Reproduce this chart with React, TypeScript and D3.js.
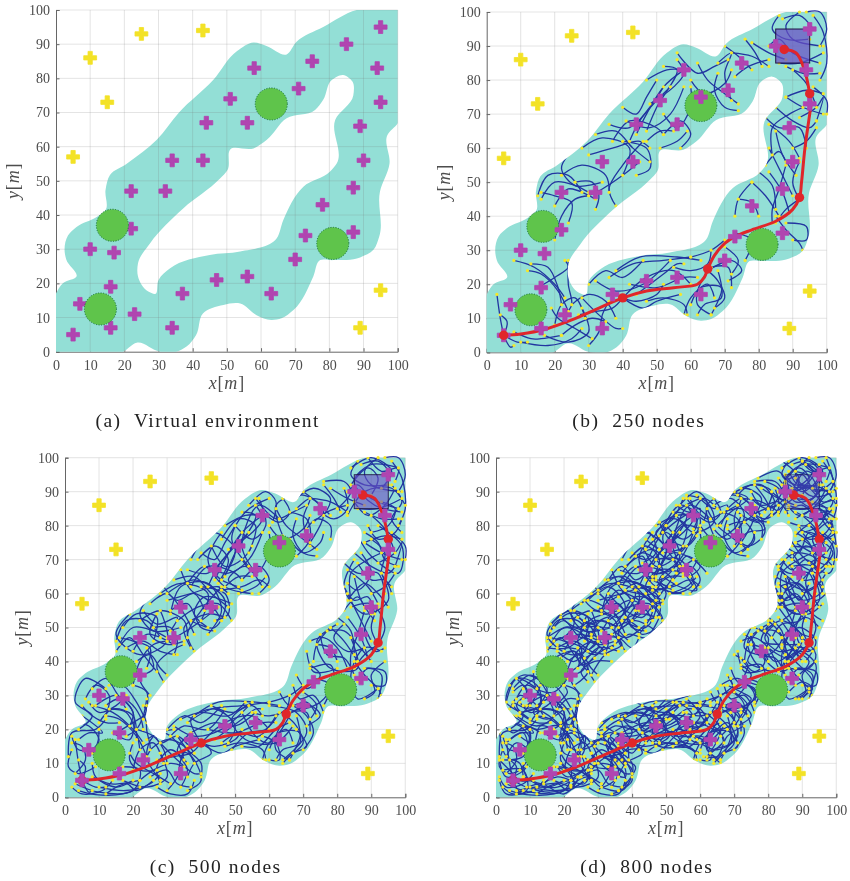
import React, { useRef, useEffect } from "react";
import * as d3 from "d3";

const ticks = [0, 10, 20, 30, 40, 50, 60, 70, 80, 90, 100];

// free space outline
const freeOuter: number[][] = [
  [0, 0], [0, 17], [2, 20], [6, 22], [3, 27], [2.5, 30], [3.5, 34], [6, 36.5], [12, 39.5], [14.5, 41.5],
  [14.5, 47.3], [15.8, 51.7], [20.7, 55], [29.5, 62], [36, 70], [46, 79.5], [53, 88], [57.8, 90.5], [61.6, 89.5],
  [67.5, 87], [70.4, 90.7], [78.2, 95], [88, 100], [100, 100], [100, 66.8], [97, 63.4], [97.6, 55], [94.8, 46.8],
  [94.6, 33.7], [92.9, 29.8], [89, 27.6], [81, 26.8], [77.3, 26.8], [75.3, 22], [69.5, 12.2], [66, 9.8], [63, 9.3],
  [58.7, 10.7], [53.9, 14.1], [49, 13.7], [43, 11.2], [41, 4.9], [38.2, 1.5], [35.3, 0], [30.4, 0], [23.6, 2.6], [19.7, 0],
];
const freeHole: number[][] = [
  [24, 25.9], [24, 22], [27, 17.6], [29, 16.9], [30, 21], [33.4, 24.4], [45, 28.3], [53.9, 29.3], [64.6, 33.2],
  [66.5, 38.5], [72.4, 48.3], [80.2, 52.7], [82.1, 55], [81.7, 67.8], [87, 75], [86.8, 79], [84, 81], [80.7, 79.5],
  [78.2, 73.7], [75.8, 70.7], [67.5, 68.3], [61.7, 62], [57.8, 59.5], [51, 59.2], [50.2, 53.2], [48, 50.7], [37.3, 42], [27.5, 31.7],
];

const hazards: number[][] = [
  [5, 5], [7, 14], [16, 7], [16, 19], [23, 11], [34, 7], [37, 17], [47, 21], [56, 22], [63, 17], [70, 27], [73, 34],
  [87, 35], [78, 43], [87, 48], [90, 56], [89, 66], [95, 73], [94, 83], [95, 95], [85, 90], [75, 85], [71, 77], [63, 75],
  [58, 83], [51, 74], [56, 67], [44, 67], [43, 56], [34, 56], [32, 47], [22, 47], [22, 36], [10, 30], [17, 29],
];
const beacons: number[][] = [[5, 57], [10, 86], [15, 73], [25, 93], [43, 94], [95, 18], [89, 7]];
const discs: number[][] = [[13, 12.5], [16.5, 37], [81, 31.7], [63, 72.5]];
const discRadius = 4.7;
const goalBox = [85, 85, 95, 95];

const route: number[][] = [
  [5, 5], [10, 5.4], [17, 6.7], [25, 9.5], [33, 13], [40, 16], [47, 18], [55, 19], [62, 20], [64, 22], [65, 24.5],
  [67, 28.5], [70, 32], [73, 34], [78, 36], [85, 38.5], [90, 42], [92, 45.5], [92.6, 50], [93.6, 60], [95, 70],
  [95.4, 73], [95, 76], [93.5, 82.8], [91, 88], [87.5, 89],
];
const routeStops: number[][] = [[5, 5], [40, 16], [65, 24.5], [92, 45.5], [95, 76], [87.5, 89]];

// tree branches as x,y,x,y,...
const treeB: number[][] = [
  [5, 5, 4, 10, 3, 17], [5, 5, 6, 9, 4, 11], [5, 5, 9, 3, 12, 3], [5, 5, 7, 1.5, 8, 2],
  [8, 27, 14, 25, 20, 20, 23, 16], [13, 26, 18, 25, 21, 19, 22, 14], [12, 24, 16, 23, 21, 18, 24, 12],
  [15, 19, 20, 22, 24, 25, 23, 27], [24, 27, 24, 20, 25, 14, 23, 11], [20, 8, 22, 14, 26, 16, 29, 10],
  [17, 5, 24, 3, 30, 6, 28, 13], [10, 3, 18, 2, 25, 4, 28, 7], [22, 5, 26, 8, 31, 10, 35, 9],
  [25, 14, 30, 17, 35, 15, 38, 10], [28, 16, 33, 11, 38, 7, 40, 7], [30, 2, 33, 6, 34, 11, 36, 15],
  [27, 11, 32, 12, 37, 13, 40, 16], [19, 13, 21, 10, 26, 7, 31, 4], [8, 6, 13, 4, 16, 4, 22, 5],
  [30, 20, 35, 24, 40, 22, 46, 27], [32, 21, 38, 18, 46, 20, 54, 27], [36, 22, 43, 26, 52, 27, 60, 28],
  [38, 24, 45, 28, 56, 28, 63, 27], [40, 16, 47, 22, 55, 24, 60, 20], [40, 16, 44, 15, 50, 17, 52, 20],
  [40, 16, 46, 13, 50, 15, 57, 17], [42, 20, 50, 19, 58, 22, 62, 22], [44, 17, 52, 23, 56, 26, 58, 26],
  [47, 15, 52, 16, 58, 14, 59, 11], [58, 11, 60, 16, 65, 20, 67, 16], [60, 14, 63, 19, 69, 19, 66, 11],
  [62, 11, 64, 14, 69, 16, 68, 24], [55, 25, 60, 24, 65, 26, 66, 30], [60, 28, 66, 30, 70, 33],
  [65, 24, 62, 18, 62, 14, 66, 11], [65, 24, 68, 21, 70, 16, 67, 13], [65, 24, 72, 27, 75, 24, 71, 21],
  [66, 25, 71, 25, 72, 19], [70, 31, 74, 27, 72, 23], [73, 35, 78, 33, 76, 27],
  [85, 40, 88, 36, 92, 32, 93, 30], [88, 38, 94, 37, 94, 33, 90, 33], [92, 45, 88, 42, 85, 38],
  [78, 50, 82, 46, 86, 40], [74, 45, 78, 44, 80, 40], [78, 50, 74, 45, 73, 40], [88, 55, 86, 48, 84, 42, 84, 38],
  [83, 53, 87, 47, 89, 41], [80, 53, 84, 49, 85, 42], [83, 60, 87, 52, 90, 46], [92, 56, 90, 50, 92, 45],
  [85, 65, 87, 58, 91, 52], [82, 55, 86, 59, 88, 56], [83, 67, 89, 62, 92, 57], [82, 69, 86, 66, 92, 66, 94, 60],
  [85, 72, 90, 68, 95, 66, 97, 68], [90, 60, 94, 62, 97, 66], [84, 58, 84, 66, 89, 70, 93, 72],
  [88, 75, 93, 72, 99, 70], [88, 75, 94, 77, 99, 76], [92, 69, 97, 72, 99, 75, 97, 68], [96, 78, 100, 74, 100, 70],
  [90, 83, 94, 79, 97, 72], [88, 84, 93, 82, 98, 82], [86, 85, 92, 85, 99, 88], [92, 100, 88, 96, 90, 92, 99, 90],
  [86, 99, 84, 95, 88, 92, 95, 92], [87, 98, 92, 99, 96, 95], [94, 100, 98, 100, 100, 95, 98, 90],
  [96, 99, 99, 94, 100, 85, 98, 80], [83, 90, 86, 92, 90, 88, 98, 85], [78, 91, 83, 88, 88, 86],
  [72, 88, 78, 87, 83, 84], [76, 92, 79, 88, 81, 84], [70, 90, 74, 87, 78, 83], [73, 81, 77, 84, 83, 86],
  [68, 85, 72, 88, 70, 82, 72, 74], [62, 85, 65, 80, 70, 76, 74, 73], [68, 82, 67, 77, 70, 72, 74, 71],
  [56, 88, 62, 82, 67, 84, 71, 86], [60, 80, 64, 76, 70, 79, 72, 83], [56, 86, 58, 82, 55, 78, 48, 73],
  [58, 83, 52, 78, 47, 70, 44, 64], [52, 84, 56, 83, 50, 72, 47, 65], [47, 80, 53, 83, 58, 83],
  [54, 78, 50, 74, 45, 68, 42, 62], [58, 78, 54, 70, 48, 66, 41, 68], [60, 78, 60, 72, 56, 66, 52, 70],
  [36, 67, 42, 66, 48, 72, 52, 78], [52, 64, 57, 68, 60, 64, 57, 60], [51, 60, 56, 62, 59, 65], [47, 62, 51, 65, 55, 65],
  [40, 72, 44, 70, 47, 75, 50, 80], [37, 62, 42, 68, 50, 66, 52, 64], [32, 64, 38, 65, 43, 60, 48, 56],
  [28, 60, 34, 63, 42, 60, 40, 52], [30, 58, 37, 60, 45, 62, 48, 60], [40, 62, 47, 60, 48, 54, 44, 52],
  [46, 62, 40, 55, 36, 48, 38, 43], [45, 56, 40, 52, 34, 48, 30, 46], [24, 58, 22, 54, 26, 49, 34, 50],
  [22, 52, 28, 55, 35, 52, 36, 47], [26, 50, 31, 50, 33, 46, 32, 42], [16, 45, 20, 50, 26, 49, 30, 47],
  [15, 46, 18, 52, 24, 52, 28, 47], [16, 47, 20, 46, 25, 44, 24, 38], [20, 33, 22, 40, 26, 45, 30, 46],
  [20, 43, 24, 48, 32, 45],
];

const treeC: number[][] = [
  [8, 32, 12, 35, 15, 31, 18, 26], [6, 29, 9, 33, 13, 30, 12, 24], [7, 28, 10, 25, 15, 27, 18, 30],
  [5, 27, 8, 24, 12, 22, 16, 22], [15, 30, 19, 28, 22, 24, 23, 20], [13, 33, 17, 33, 21, 28, 24, 22],
  [20, 33, 24, 31, 24, 26, 23, 23], [24, 29, 23, 24, 21, 20, 18, 18], [3, 22, 7, 21, 10, 17, 8, 13],
  [2, 18, 4, 14, 9, 15, 10, 20], [2, 14, 1, 9, 4, 7, 9, 9], [2, 3, 5, 1, 11, 2, 14, 5],
  [4, 2, 9, 0.8, 17, 1, 22, 3], [8, 10, 9, 6, 15, 3, 20, 5], [20, 16, 19, 11, 22, 8, 27, 8],
  [21, 20, 26, 18, 29, 14, 30, 10], [24, 17, 29, 19, 33, 16, 35, 11], [25, 6, 30, 8, 33, 4, 37, 3],
  [27, 3, 31, 1, 36, 1, 38, 5], [33, 18, 36, 14, 40, 10, 40, 6], [36, 6, 38, 10, 43, 13, 41, 16],
  [31, 18, 35, 21, 42, 20, 47, 26], [34, 23, 40, 25, 48, 24, 53, 28], [37, 19, 44, 22, 50, 21, 56, 25],
  [43, 27, 49, 25, 55, 27, 58, 24], [46, 16, 51, 19, 57, 18, 62, 24], [49, 14, 54, 19, 59, 20, 63, 25],
  [52, 15, 57, 15, 62, 20, 66, 22], [58, 18, 62, 16, 63, 11, 60, 11], [64, 10, 67, 13, 71, 15, 68, 20],
  [70, 14, 73, 19, 71, 24, 67, 27], [63, 31, 66, 27, 71, 28, 74, 24], [67, 33, 69, 29, 73, 30, 76, 25],
  [68, 36, 71, 32, 75, 36, 72, 39], [71, 43, 73, 37, 77, 37, 80, 38], [75, 48, 77, 42, 82, 41, 85, 36],
  [72, 46, 76, 47, 80, 44, 83, 38], [82, 51, 79, 47, 83, 43, 88, 44], [77, 49, 82, 49, 86, 45, 90, 40],
  [86, 34, 89, 38, 93, 36, 92, 29], [88, 29, 91, 31, 90, 36, 94, 40], [90, 54, 88, 49, 91, 43, 94, 44],
  [82, 62, 85, 58, 89, 59, 91, 54], [83, 58, 88, 63, 92, 60, 95, 56], [86, 69, 90, 64, 94, 64, 96, 60],
  [83, 63, 86, 61, 90, 66, 87, 72], [96, 62, 93, 66, 94, 72, 90, 76], [98, 68, 94, 70, 92, 75, 88, 78],
  [89, 80, 92, 76, 97, 78, 99, 82], [90, 78, 95, 80, 97, 85, 93, 87], [99, 78, 96, 82, 99, 87, 96, 92],
  [85, 87, 89, 83, 94, 86, 97, 91], [84, 97, 90, 100, 96, 96, 93, 91], [89, 100, 93, 96, 98, 97, 97, 93],
  [80, 85, 84, 90, 82, 93, 76, 93], [74, 85, 79, 82, 83, 85, 82, 91], [68, 88, 73, 91, 78, 88, 76, 83],
  [71, 79, 74, 82, 78, 80, 78, 76], [66, 76, 70, 72, 75, 75, 76, 78], [68, 71, 72, 76, 71, 82, 66, 84],
  [64, 88, 66, 84, 63, 81, 58, 84], [54, 86, 59, 90, 62, 87, 61, 81], [50, 80, 55, 76, 59, 80, 57, 88],
  [46, 76, 51, 82, 56, 80, 54, 72], [43, 74, 47, 68, 52, 70, 55, 74], [39, 70, 44, 74, 48, 70, 45, 63],
  [36, 63, 41, 68, 46, 64, 51, 62], [52, 61, 48, 64, 53, 68, 58, 62], [60, 62, 57, 64, 52, 62, 46, 61],
  [34, 67, 37, 61, 42, 58, 46, 52], [29, 62, 33, 58, 38, 60, 41, 55], [25, 57, 30, 60, 35, 54, 38, 48],
  [23, 55, 27, 51, 33, 53, 31, 49], [27, 54, 25, 48, 30, 45, 35, 46], [37, 44, 35, 50, 42, 54, 47, 53],
  [17, 50, 21, 54, 27, 53, 26, 46], [15, 43, 19, 47, 23, 42, 27, 37], [21, 40, 25, 42, 28, 38, 30, 36],
  [29, 34, 27, 39, 31, 43, 35, 45], [18, 44, 23, 46, 28, 43, 33, 42], [25, 30, 22, 35, 26, 38, 24, 44],
  [42, 50, 38, 54, 41, 59, 49, 57], [49, 52, 45, 57, 39, 56, 33, 52], [31, 55, 36, 57, 40, 50, 44, 49],
  [12, 27, 16, 29, 20, 25, 19, 21], [10, 22, 14, 26, 20, 24, 21, 17], [4, 17, 7, 19, 11, 19, 5, 24],
  [3, 7, 6, 11, 5, 15, 2, 16], [26, 20, 28, 16, 33, 18, 38, 13], [28, 4, 27, 9, 31, 14, 36, 10],
  [34, 3, 36, 8, 33, 14, 37, 19], [12, 1, 18, 4, 21, 2, 26, 5],
  // long loops, second pass over panel (c)
  [9, 27, 15, 30, 20, 25, 19, 17, 14, 19], [4, 20, 8, 24, 3, 28, 6, 35, 12, 32], [1, 12, 2, 19, 9, 20, 12, 23],
  [3, 4, 10, 1.5, 20, 2, 22, 8, 17, 9], [28, 5, 24, 12, 26, 18, 32, 20], [36, 2, 40, 5, 36, 13, 30, 12],
  [40, 16, 37, 23, 44, 26, 50, 21, 48, 16], [55, 28, 49, 23, 53, 17, 62, 16, 67, 21], [60, 27, 68, 25, 71, 19, 64, 11],
  [66, 24, 60, 16, 56, 18, 52, 25], [72, 38, 78, 39, 79, 34, 75, 28, 70, 26], [92, 32, 86, 29, 84, 36, 88, 44, 93, 43],
  [80, 51, 74, 46, 78, 38, 86, 38, 84, 47], [84, 56, 90, 57, 94, 50, 90, 42], [85, 70, 82, 62, 88, 54, 95, 58, 93, 66],
  [86, 77, 90, 71, 98, 66, 99, 74, 92, 80], [98, 97, 90, 98, 85, 93, 91, 86, 99, 84], [83, 83, 88, 90, 96, 91, 100, 86],
  [90, 89, 92, 94, 89, 97, 84, 92], [72, 75, 76, 84, 70, 89, 62, 86, 64, 77], [56, 66, 52, 74, 57, 86, 63, 82],
  [46, 78, 42, 70, 47, 62, 55, 60], [30, 60, 38, 64, 47, 58, 44, 50, 37, 52], [19, 54, 15, 48, 22, 42, 30, 46, 28, 55],
  [42, 48, 46, 55, 42, 63, 34, 62, 31, 54], [37, 70, 43, 78, 50, 73, 46, 64], [60, 88, 53, 84, 49, 76, 54, 68],
];

const treeD: number[][] = [
  [2, 22, 5, 19, 9, 21, 13, 19], [1, 19, 3, 12, 7, 10, 8, 6], [1, 6, 3, 3, 8, 4, 11, 7], [6, 2, 12, 3, 18, 3, 24, 6],
  [3, 12, 6, 16, 10, 13, 7, 8], [8, 21, 12, 20, 19, 21, 21, 14], [4, 26, 7, 30, 11, 28, 14, 24], [4, 33, 8, 36, 13, 34, 10, 27],
  [6, 35, 9, 31, 6, 27, 10, 23], [11, 37, 12, 32, 17, 31, 21, 35], [14, 28, 11, 25, 15, 23, 20, 26], [17, 24, 21, 29, 25, 28, 22, 21],
  [23, 19, 19, 18, 20, 13, 25, 12], [18, 9, 21, 6, 26, 9, 24, 14], [14, 4, 18, 7, 24, 8, 28, 5], [22, 3.5, 27, 6, 31, 3, 35, 5],
  [26, 12, 29, 9, 34, 9, 32, 16], [29, 15, 33, 19, 38, 17, 39, 11], [31, 12, 36, 11, 39, 14, 44, 14], [34, 1, 38, 3, 37, 8, 33, 9],
  [37, 11, 41, 9, 39, 5, 36, 2], [32, 20, 37, 23, 44, 21, 50, 23], [35, 19, 40, 19, 46, 23, 51, 23], [31, 22, 38, 25, 44, 24, 50, 29],
  [41, 28, 47, 26, 51, 28, 57, 30], [43, 19, 48, 17, 54, 20, 59, 17], [44, 13, 49, 16, 55, 15, 60, 13], [46, 18, 52, 21, 58, 24, 62, 29],
  [48, 22, 53, 18, 60, 18, 65, 16], [50, 26, 54, 22, 60, 21, 65, 28], [53, 16, 56, 20, 52, 24, 47, 24], [59, 27, 61, 23, 66, 20, 70, 22],
  [61, 12, 65, 12, 68, 18, 73, 21], [60, 16, 65, 14, 71, 18, 69, 25], [63, 13, 67, 17, 62, 21, 58, 22], [65, 32, 68, 26, 73, 25, 75, 21],
  [69, 38, 71, 34, 76, 32, 76, 28], [68, 33, 72, 31, 75, 29, 72, 26], [70, 42, 74, 39, 73, 35, 77, 33], [73, 48, 76, 45, 74, 40, 78, 38],
  [76, 50, 80, 47, 79, 41, 83, 37], [81, 52, 78, 46, 84, 45, 89, 45], [83, 49, 87, 44, 92, 40, 89, 36], [86, 38, 92, 38, 94, 42, 90, 47],
  [86, 31, 90, 34, 93, 32, 89, 29], [90, 29, 93, 34, 88, 40, 84, 44], [94, 47, 90, 48, 86, 52, 83, 56], [95, 50, 91, 53, 87, 50, 84, 47],
  [96, 57, 92, 54, 86, 55, 84, 60], [83, 56, 88, 60, 93, 54, 96, 52], [82, 65, 86, 63, 91, 61, 96, 64], [84, 70, 87, 67, 91, 70, 95, 67],
  [85, 74, 89, 72, 92, 78, 97, 75], [87, 70, 91, 74, 96, 71, 99, 68], [88, 77, 92, 80, 96, 76, 100, 78], [86, 81, 91, 80, 96, 84, 100, 82],
  [85, 84, 90, 86, 95, 82, 99, 85], [100, 88, 96, 87, 92, 91, 87, 91], [85, 93, 90, 95, 94, 90, 99, 93], [83, 94, 87, 90, 92, 93, 95, 98],
  [86, 96, 89, 92, 93, 96, 90, 99], [88, 94, 92, 89, 97, 89, 100, 91], [91, 98, 95, 94, 93, 88, 88, 88], [79, 93, 83, 91, 85, 87, 81, 83],
  [75, 90, 78, 86, 83, 87, 86, 83], [71, 89, 75, 92, 81, 90, 79, 84], [67, 84, 72, 85, 76, 82, 80, 81], [70, 74, 74, 78, 79, 79, 75, 84],
  [72, 72, 76, 76, 73, 81, 68, 80], [65, 80, 69, 84, 74, 88, 69, 90], [59, 89, 64, 85, 68, 86, 66, 80], [53, 86, 57, 84, 61, 88, 65, 85],
  [49, 78, 54, 82, 60, 85, 58, 79], [44, 76, 49, 73, 55, 80, 60, 79], [41, 71, 46, 73, 51, 70, 56, 74], [38, 68, 43, 71, 46, 66, 52, 67],
  [33, 64, 37, 68, 41, 64, 46, 68], [36, 59, 41, 63, 47, 61, 53, 63], [49, 65, 54, 62, 59, 61, 55, 68], [58, 70, 54, 67, 50, 62, 47, 58],
  [62, 66, 58, 70, 52, 72, 48, 68], [26, 58, 30, 55, 36, 61, 40, 58], [22, 55, 27, 58, 32, 56, 37, 52], [19, 53, 24, 50, 29, 53, 36, 55],
  [16, 49, 20, 52, 25, 47, 30, 50], [15, 44, 21, 44, 26, 47, 32, 43], [17, 41, 23, 43, 25, 39, 29, 41], [22, 37, 26, 40, 30, 44, 36, 43],
  [27, 34, 25, 37, 29, 40, 34, 40], [39, 46, 36, 50, 41, 52, 47, 49], [34, 44, 39, 48, 44, 47, 48, 53], [31, 47, 36, 47, 40, 44, 42, 47],
  [44, 60, 48, 57, 50, 60, 47, 64], [33, 60, 38, 55, 43, 53, 46, 57], [28, 48, 31, 52, 37, 50, 42, 55], [24, 53, 28, 50, 30, 44, 26, 41],
  [20, 56, 23, 52, 21, 48, 17, 46], [40, 75, 45, 78, 47, 72, 43, 69], [48, 81, 51, 76, 56, 74, 59, 77], [55, 88, 52, 82, 47, 78, 50, 74],
  [57, 65, 60, 68, 56, 71, 53, 66], [7, 18, 11, 16, 13, 21, 17, 20], [19, 16, 22, 19, 26, 16, 26, 21], [1, 11, 4, 8, 7, 5, 11, 5],
  [7, 24, 10, 28, 8, 33, 5, 31], [18, 35, 21, 31, 18, 27, 22, 26], [36, 16, 40, 13, 44, 18, 48, 16], [41, 24, 44, 20, 50, 25, 55, 22],
  [56, 27, 60, 26, 62, 22, 57, 20], [66, 26, 70, 28, 70, 23, 66, 18], [77, 30, 74, 33, 71, 30, 69, 35], [79, 44, 82, 40, 86, 42, 88, 47],
  [81, 47, 84, 51, 89, 52, 90, 57], [84, 52, 88, 56, 85, 61, 87, 65], [92, 63, 89, 58, 86, 64, 83, 68], [97, 60, 94, 58, 91, 63, 93, 68],
  // rings and dense hubs, second pass over panel (d)
  [3, 28, 6, 35, 12, 33, 13, 27, 7, 25], [5, 32, 10, 36, 15, 32, 11, 26, 5, 28], [8, 29, 14, 30, 17, 24, 12, 21, 6, 24],
  [1, 20, 5, 22, 10, 19, 8, 12, 2, 11], [3, 16, 8, 19, 9, 9, 3, 6, 1, 11], [2, 8, 8, 8, 9, 2, 3, 1, 1, 5],
  [6, 1, 13, 4, 20, 1, 24, 6, 17, 9], [9, 3, 16, 1.5, 23, 4, 19, 10], [11, 2, 18, 6, 26, 4, 28, 9], [19, 22, 24, 20, 26, 14, 21, 8],
  [22, 24, 19, 19, 23, 14, 29, 16, 26, 21], [28, 13, 33, 8, 38, 6, 36, 13, 30, 16], [31, 3, 37, 2, 40, 8, 33, 12, 28, 8],
  [38, 9, 33, 17, 39, 21, 44, 16], [31, 19, 34, 14, 40, 19, 36, 24], [42, 14, 46, 19, 43, 25, 37, 23], [47, 28, 42, 22, 48, 15, 56, 16, 58, 22],
  [52, 28, 46, 23, 53, 19, 60, 24, 56, 29], [59, 13, 53, 19, 60, 25, 66, 20, 62, 12], [66, 10, 62, 15, 68, 22, 71, 16], [63, 28, 69, 31, 73, 27, 70, 21],
  [66, 33, 71, 35, 76, 30, 72, 25], [72, 41, 76, 37, 79, 40, 75, 45], [75, 50, 73, 44, 80, 42, 84, 47, 80, 52], [79, 49, 84, 52, 90, 47, 86, 41, 80, 44],
  [88, 33, 84, 38, 89, 43, 94, 39, 92, 31], [84, 45, 89, 50, 94, 46, 91, 40], [82, 58, 87, 55, 92, 58, 89, 63, 83, 62], [85, 62, 90, 58, 96, 61, 93, 68, 87, 68],
  [83, 68, 88, 72, 94, 70, 90, 64], [87, 74, 93, 74, 99, 79, 95, 85, 88, 82], [97, 70, 93, 76, 98, 81, 100, 74], [89, 79, 95, 76, 99, 72, 95, 67],
  [86, 88, 90, 92, 95, 89, 91, 85, 86, 86], [88, 96, 93, 94, 94, 89, 88, 87, 85, 92], [87, 90, 91, 96, 96, 92, 92, 87], [85, 95, 90, 90, 95, 95, 90, 99],
  [97, 100, 99, 92, 95, 86, 99, 79], [84, 99, 89, 94, 86, 87, 81, 90], [77, 94, 83, 96, 86, 90, 80, 85, 75, 88], [72, 91, 78, 92, 82, 86, 77, 81, 71, 84],
  [68, 79, 74, 74, 79, 78, 76, 86], [64, 86, 69, 88, 73, 83, 68, 76, 64, 79], [56, 89, 62, 87, 64, 81, 58, 78, 53, 83], [48, 77, 54, 86, 60, 82, 56, 74, 49, 72],
  [44, 73, 50, 78, 54, 71, 48, 64, 42, 67], [37, 66, 43, 72, 49, 67, 46, 60, 38, 61], [46, 65, 52, 60, 58, 63, 54, 70, 47, 70], [49, 58, 44, 62, 48, 67, 55, 66],
  [30, 61, 36, 65, 41, 60, 36, 53, 30, 56], [27, 58, 33, 62, 38, 56, 33, 50, 26, 52], [41, 61, 46, 57, 49, 52, 43, 48, 38, 53], [44, 51, 38, 47, 33, 52, 39, 58, 46, 55],
  [16, 51, 22, 55, 29, 51, 26, 44, 18, 45], [15, 47, 21, 50, 27, 46, 23, 40, 18, 43], [34, 48, 29, 42, 24, 46, 29, 52, 36, 50], [28, 36, 32, 42, 37, 45, 33, 48, 27, 43],
  [23, 33, 27, 37, 23, 43, 19, 41],
];

const panels = [
  { left: 56, right: 397.7, top: 10, bottom: 351.7, caption: "(a)  Virtual environment", cx: 207.7, cy: 427, tree: null, boxOpacity: 0, stopsOnTop: false },
  { left: 486.7, right: 826.7, top: 12, bottom: 352.3, caption: "(b)  250 nodes", cx: 638.7, cy: 427, tree: [treeB], boxOpacity: 0.72, stopsOnTop: true },
  { left: 65, right: 405.3, top: 457.7, bottom: 797.3, caption: "(c)  500 nodes", cx: 215.7, cy: 873, tree: [treeB, treeC], boxOpacity: 0.6, stopsOnTop: false },
  { left: 496, right: 836.3, top: 457.7, bottom: 797.3, caption: "(d)  800 nodes", cx: 646.7, cy: 873, tree: [treeB, treeC, treeD], boxOpacity: 0.25, stopsOnTop: false },
];

const serif = "'Liberation Serif', 'DejaVu Serif', serif";
const greyText = "#4d4d4d";

export default function App() {
  const svgRef = useRef<SVGSVGElement>(null);

  useEffect(() => {
    const root = d3.select(svgRef.current);
    root.selectAll("*").remove();

    // the reference is a soft, upscaled raster
    root.append("defs").append("filter").attr("id", "soft")
      .attr("x", 0).attr("y", 0).attr("width", 1).attr("height", 1)
      .attr("filterUnits", "objectBoundingBox")
      .append("feGaussianBlur").attr("stdDeviation", 0.45);

    panels.forEach((p, i) => {
      const x = d3.scaleLinear().domain([0, 100]).range([p.left, p.right]);
      const y = d3.scaleLinear().domain([0, 100]).range([p.bottom, p.top]);
      const ring = d3.line<number[]>().x((d) => x(d[0])).y((d) => y(d[1])).curve(d3.curveCatmullRomClosed.alpha(1));
      const open = d3.line<number[]>().x((d) => x(d[0])).y((d) => y(d[1])).curve(d3.curveCatmullRom.alpha(0.5));
      const freePath = (ring(freeOuter) as string) + (ring(freeHole) as string);
      const g = root.append("g").attr("filter", "url(#soft)");

      const defs = g.append("defs");
      defs.append("clipPath").attr("id", `plot${i}`).append("rect")
        .attr("x", p.left).attr("y", p.top).attr("width", p.right - p.left).attr("height", p.bottom - p.top);
      defs.append("clipPath").attr("id", `free${i}`).append("path").attr("d", freePath).attr("clip-rule", "evenodd");

      // axes go under the teal, as in the matlab figure
      const xAxis = g.append("g").attr("transform", `translate(0,${p.bottom})`)
        .call(d3.axisBottom(x).tickValues(ticks).tickSize(-3.5).tickPadding(8).tickFormat(d3.format("d") as any));
      const yAxis = g.append("g").attr("transform", `translate(${p.left},0)`)
        .call(d3.axisLeft(y).tickValues(ticks).tickSize(-3.5).tickPadding(6).tickFormat(d3.format("d") as any));
      [xAxis, yAxis].forEach((a) => {
        a.selectAll("path, line").attr("stroke", "#666").attr("stroke-width", 1);
        a.selectAll("text").attr("font-family", serif).attr("font-size", 14).attr("fill", greyText);
      });

      g.append("path").attr("d", freePath).attr("fill", "#93dfd6").attr("fill-rule", "evenodd")
        .attr("clip-path", `url(#plot${i})`);

      const grid = g.append("g").attr("stroke", "#777").attr("stroke-opacity", 0.2).attr("stroke-width", 1);
      ticks.slice(1).forEach((t) => {
        grid.append("line").attr("x1", x(t)).attr("x2", x(t)).attr("y1", p.top).attr("y2", p.bottom);
        grid.append("line").attr("x1", p.left).attr("x2", p.right).attr("y1", y(t)).attr("y2", y(t));
      });

      const cross = d3.symbol().type(d3.symbolCross).size(92);
      const drawCrosses = (list: number[][], colour: string) => {
        g.append("g").selectAll("path").data(list).join("path")
          .attr("d", cross as any)
          .attr("transform", (d) => `translate(${x(d[0])},${y(d[1])})`)
          .attr("fill", colour).attr("stroke", colour).attr("stroke-width", 0.8).attr("stroke-linejoin", "round");
      };
      const drawDiscs = () => {
        g.append("g").selectAll("circle").data(discs).join("circle")
          .attr("cx", (d) => x(d[0])).attr("cy", (d) => y(d[1]))
          .attr("r", x(discRadius) - x(0))
          .attr("fill", "#5fc44b").attr("stroke", "#17703f").attr("stroke-width", 1).attr("stroke-dasharray", "1 1.6");
      };
      const drawStops = () => {
        g.append("g").selectAll("circle").data(routeStops).join("circle")
          .attr("cx", (d) => x(d[0])).attr("cy", (d) => y(d[1])).attr("r", 4.7).attr("fill", "#e0262c");
      };

      drawCrosses(beacons, "#f3e227");

      if (!p.tree) {
        drawCrosses(hazards, "#b044b0");
        drawDiscs();
      } else {
        const edges = p.tree.flat();
        const asPoints = (e: number[]) => d3.range(0, e.length, 2).map((k) => [e[k], e[k + 1]]);
        const inner = g.append("g").attr("clip-path", `url(#free${i})`);
        inner.append("g").selectAll("path").data(edges).join("path")
          .attr("d", (e) => open(asPoints(e)))
          .attr("fill", "none").attr("stroke", "#2235a0").attr("stroke-width", 1.3);
        const nodes = edges.flatMap((e) => [[e[0], e[1]], [e[e.length - 2], e[e.length - 1]]]);
        inner.append("g").selectAll("circle").data(nodes).join("circle")
          .attr("cx", (d) => x(d[0])).attr("cy", (d) => y(d[1])).attr("r", 1.6).attr("fill", "#f4e82a");

        drawDiscs();

        g.append("rect")
          .attr("x", x(goalBox[0])).attr("y", y(goalBox[3]))
          .attr("width", x(goalBox[2]) - x(goalBox[0])).attr("height", y(goalBox[1]) - y(goalBox[3]))
          .attr("fill", "#6a4fc4").attr("fill-opacity", p.boxOpacity)
          .attr("stroke", "#1c1040").attr("stroke-opacity", p.boxOpacity + 0.25).attr("stroke-width", 1);

        g.append("path").attr("d", open(route)).attr("fill", "none").attr("stroke", "#e0262c").attr("stroke-width", 3);
        if (!p.stopsOnTop) drawStops();
        drawCrosses(hazards, "#b044b0");
        if (p.stopsOnTop) drawStops();
      }

      // axis names, italic letters with upright brackets
      const label = (cx: number, cy: number, rotate: boolean, letter: string) => {
        const t = g.append("text").attr("text-anchor", "middle").attr("font-family", serif)
          .attr("font-size", 18).attr("letter-spacing", 0.8).attr("fill", greyText)
          .attr("transform", `translate(${cx},${cy})${rotate ? " rotate(-90)" : ""}`);
        t.append("tspan").attr("font-style", "italic").text(letter);
        t.append("tspan").text("[");
        t.append("tspan").attr("font-style", "italic").text("m");
        t.append("tspan").text("]");
      };
      label((p.left + p.right) / 2, p.bottom + 37, false, "x");
      label(p.left - 37, (p.top + p.bottom) / 2, true, "y");

      g.append("text").attr("x", p.cx).attr("y", p.cy).attr("text-anchor", "middle")
        .attr("font-family", serif).attr("font-size", 19.5).attr("letter-spacing", 1.5)
        .attr("fill", "#222").style("white-space", "pre").text(p.caption);
    });
  }, []);

  return (
    <svg ref={svgRef} width={850} height={881} style={{ position: "absolute", left: 0, top: 0, background: "#fff" }} />
  );
}
